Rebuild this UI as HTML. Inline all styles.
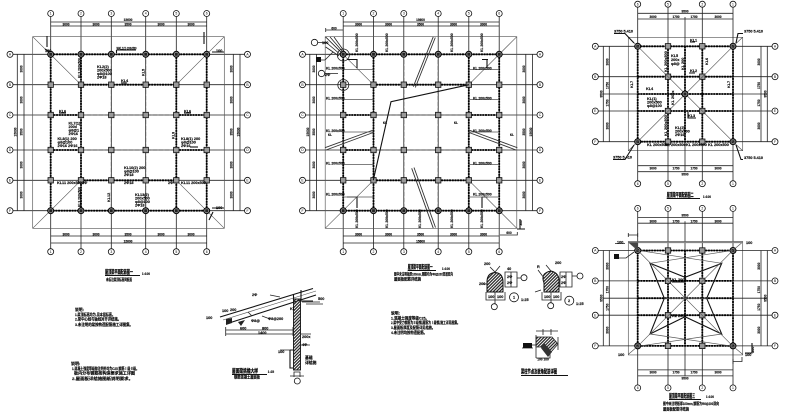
<!DOCTYPE html>
<html lang="zh"><head><meta charset="utf-8"><title>屋顶梁平面配筋图</title>
<style>
html,body{margin:0;padding:0;background:#fff;width:800px;height:412px;overflow:hidden}
svg{display:block}
text{font-family:"Liberation Sans","Noto Sans CJK SC",sans-serif;fill:#000}
.b{fill:#fff;stroke:#111;stroke-width:.8}
.l{fill:none;stroke:#222;stroke-width:.8}
.g{fill:none;stroke:#555;stroke-width:.65}
.d{fill:none;stroke:#444;stroke-width:.8;stroke-dasharray:4 2}
.h{fill:none;stroke:#000;stroke-width:1.8;stroke-dasharray:2 .7}
.k{fill:none;stroke:#111;stroke-width:1.1}
.n{font-size:3.4px;text-anchor:middle}
.t{font-size:3.8px;font-weight:700;stroke:#000;stroke-width:.14}
.t text{stroke:#000;stroke-width:.14}
.m{font-size:3.2px;text-anchor:middle;font-weight:700;stroke:#000;stroke-width:.12}
.T{font-size:5.4px;font-weight:700;stroke:#000;stroke-width:.2}
</style></head><body>
<svg width="800" height="412" viewBox="0 0 800 412" xmlns="http://www.w3.org/2000/svg">
<defs>
<g id="c"><rect x="-2.7" y="-2.7" width="5.4" height="5.4" fill="#999" stroke="#111" stroke-width=".8"/></g>
<g id="o"><circle r="3" fill="#888" stroke="#000" stroke-width="1"/><rect x="-1.4" y="-1.4" width="2.8" height="2.8" fill="#222"/></g>
<g id="P">
<path class="l" d="M50.7 16.5V248.7M81 16.5V248.7M111.3 16.5V248.7M145.7 16.5V248.7M176.3 16.5V248.7M206.7 16.5V248.7M13 54.3H244.5M13 84.7H244.5M13 115H244.5M13 150H244.5M13 180.3H244.5M13 210.7H244.5"/>
<path class="g" d="M32.7 36.7H224.3V228.3H32.7Z"/>
<path class="l" d="M50.7 22H206.7M50.7 26H206.7M50.7 236H206.7M50.7 243H206.7M17.3 54.3V210.7M24 54.3V210.7M233.3 54.3V210.7M240 54.3V210.7"/>
<path class="g" d="M32.7 36.7L81 84.7M224.3 36.7L176.3 84.7M32.7 228.3L81 180.3M224.3 228.3L176.3 180.3"/>
<path class="d" d="M111.3 54V211M145.7 54V211M81 115H176M81 150H176"/>
<path class="h" d="M50.7 54.3H206.7V210.7H50.7ZM81 54.3V210.7M176.3 54.3V210.7M81 84.7H176.3M81 180.3H176.3M50.7 115H81M176.3 115H206.7M50.7 150H81M176.3 150H206.7"/>
<use href="#o" x="50.7" y="54.3"/><use href="#o" x="81" y="54.3"/><use href="#o" x="111.3" y="54.3"/><use href="#o" x="145.7" y="54.3"/><use href="#o" x="176.3" y="54.3"/><use href="#o" x="206.7" y="54.3"/>
<use href="#o" x="50.7" y="210.7"/><use href="#o" x="81" y="210.7"/><use href="#o" x="111.3" y="210.7"/><use href="#o" x="145.7" y="210.7"/><use href="#o" x="176.3" y="210.7"/><use href="#o" x="206.7" y="210.7"/>
<use href="#c" x="50.7" y="84.7"/><use href="#c" x="81" y="84.7"/><use href="#c" x="111.3" y="84.7"/><use href="#c" x="145.7" y="84.7"/><use href="#c" x="176.3" y="84.7"/><use href="#c" x="206.7" y="84.7"/>
<use href="#c" x="50.7" y="115"/><use href="#c" x="81" y="115"/><use href="#c" x="111.3" y="115"/><use href="#c" x="145.7" y="115"/><use href="#c" x="176.3" y="115"/><use href="#c" x="206.7" y="115"/>
<use href="#c" x="50.7" y="150"/><use href="#c" x="81" y="150"/><use href="#c" x="111.3" y="150"/><use href="#c" x="145.7" y="150"/><use href="#c" x="176.3" y="150"/><use href="#c" x="206.7" y="150"/>
<use href="#c" x="50.7" y="180.3"/><use href="#c" x="81" y="180.3"/><use href="#c" x="111.3" y="180.3"/><use href="#c" x="145.7" y="180.3"/><use href="#c" x="176.3" y="180.3"/><use href="#c" x="206.7" y="180.3"/>
<circle class="b" cx="50.7" cy="13.5" r="3"/><circle class="b" cx="81" cy="13.5" r="3"/><circle class="b" cx="111.3" cy="13.5" r="3"/><circle class="b" cx="145.7" cy="13.5" r="3"/><circle class="b" cx="176.3" cy="13.5" r="3"/><circle class="b" cx="206.7" cy="13.5" r="3"/>
<circle class="b" cx="50.7" cy="251.7" r="3"/><circle class="b" cx="81" cy="251.7" r="3"/><circle class="b" cx="111.3" cy="251.7" r="3"/><circle class="b" cx="145.7" cy="251.7" r="3"/><circle class="b" cx="176.3" cy="251.7" r="3"/><circle class="b" cx="206.7" cy="251.7" r="3"/>
<circle class="b" cx="10" cy="54.3" r="3"/><circle class="b" cx="10" cy="84.7" r="3"/><circle class="b" cx="10" cy="115" r="3"/><circle class="b" cx="10" cy="150" r="3"/><circle class="b" cx="10" cy="180.3" r="3"/><circle class="b" cx="10" cy="210.7" r="3"/>
<circle class="b" cx="247.5" cy="54.3" r="3"/><circle class="b" cx="247.5" cy="84.7" r="3"/><circle class="b" cx="247.5" cy="115" r="3"/><circle class="b" cx="247.5" cy="150" r="3"/><circle class="b" cx="247.5" cy="180.3" r="3"/><circle class="b" cx="247.5" cy="210.7" r="3"/>
<text class="n" x="50.7" y="14.7">1</text><text class="n" x="81" y="14.7">2</text><text class="n" x="111.3" y="14.7">3</text><text class="n" x="145.7" y="14.7">4</text><text class="n" x="176.3" y="14.7">5</text><text class="n" x="206.7" y="14.7">6</text>
<text class="n" x="50.7" y="252.9">1</text><text class="n" x="81" y="252.9">2</text><text class="n" x="111.3" y="252.9">3</text><text class="n" x="145.7" y="252.9">4</text><text class="n" x="176.3" y="252.9">5</text><text class="n" x="206.7" y="252.9">6</text>
<text class="n" x="10" y="55.5">A</text><text class="n" x="10" y="85.9">B</text><text class="n" x="10" y="116.2">C</text><text class="n" x="10" y="151.2">D</text><text class="n" x="10" y="181.5">E</text><text class="n" x="10" y="211.9">F</text>
<text class="n" x="247.5" y="55.5">A</text><text class="n" x="247.5" y="85.9">B</text><text class="n" x="247.5" y="116.2">C</text><text class="n" x="247.5" y="151.2">D</text><text class="n" x="247.5" y="181.5">E</text><text class="n" x="247.5" y="211.9">F</text>
<text class="m" x="128" y="21">15600</text><text class="m" x="66" y="25.5">3000</text><text class="m" x="96" y="25.5">3000</text><text class="m" x="128" y="25.5">3500</text><text class="m" x="161" y="25.5">3000</text><text class="m" x="191" y="25.5">3000</text>
<text class="m" x="66" y="235.5">3000</text><text class="m" x="96" y="235.5">3000</text><text class="m" x="128" y="235.5">3500</text><text class="m" x="161" y="235.5">3000</text><text class="m" x="191" y="235.5">3000</text><text class="m" x="128" y="242.5">15600</text>
<text class="m" transform="translate(22.7 69) rotate(-90)">3000</text><text class="m" transform="translate(22.7 100) rotate(-90)">3000</text><text class="m" transform="translate(22.7 132) rotate(-90)">3500</text><text class="m" transform="translate(22.7 165) rotate(-90)">3000</text><text class="m" transform="translate(22.7 195) rotate(-90)">3000</text><text class="m" transform="translate(16.7 132) rotate(-90)">15600</text>
<text class="m" transform="translate(232.7 69) rotate(-90)">3000</text><text class="m" transform="translate(232.7 100) rotate(-90)">3000</text><text class="m" transform="translate(232.7 132) rotate(-90)">3500</text><text class="m" transform="translate(232.7 165) rotate(-90)">3000</text><text class="m" transform="translate(232.7 195) rotate(-90)">3000</text><text class="m" transform="translate(239.5 132) rotate(-90)">15600</text>
</g>
<g id="Q">
<path class="g" d="M628.3 37.3H742.7V150.7H628.3Z"/>
<path class="l" d="M637.7 7V181M668 7V181M702.3 7V181M733 7V181M598.5 46.3H772M598.5 76.7H772M598.5 111H772M598.5 141.7H772M685 17V172M603 94H767"/>
<path class="l" d="M637.7 13.3H733M637.7 19H733M637.7 165.7H733M637.7 171.7H733M603.3 46.3V141.7M609.3 46.3V141.7M761 46.3V141.7M767.3 46.3V141.7"/>
<path class="h" d="M637.7 46.3H733V141.7H637.7ZM668 46.3V141.7M702.3 46.3V141.7M685 46.3V141.7M637.7 76.7H733M637.7 94H733M637.7 111H733"/>
<use href="#o" x="637.7" y="46.3"/><use href="#c" x="668" y="46.3"/><use href="#c" x="702.3" y="46.3"/><use href="#o" x="733" y="46.3"/>
<use href="#o" x="637.7" y="141.7"/><use href="#c" x="668" y="141.7"/><use href="#c" x="702.3" y="141.7"/><use href="#o" x="733" y="141.7"/>
<use href="#c" x="668" y="76.7"/><use href="#c" x="702.3" y="76.7"/><use href="#c" x="668" y="111"/><use href="#c" x="702.3" y="111"/>
<circle class="b" cx="637.7" cy="4.2" r="3"/><circle class="b" cx="668" cy="4.2" r="3"/><circle class="b" cx="702.3" cy="4.2" r="3"/><circle class="b" cx="733" cy="4.2" r="3"/>
<circle class="b" cx="637.7" cy="183.7" r="3"/><circle class="b" cx="668" cy="183.7" r="3"/><circle class="b" cx="702.3" cy="183.7" r="3"/><circle class="b" cx="733" cy="183.7" r="3"/>
<circle class="b" cx="595.3" cy="46.3" r="3"/><circle class="b" cx="595.3" cy="76.7" r="3"/><circle class="b" cx="595.3" cy="111" r="3"/><circle class="b" cx="595.3" cy="141.7" r="3"/>
<circle class="b" cx="775" cy="46.3" r="3"/><circle class="b" cx="775" cy="76.7" r="3"/><circle class="b" cx="775" cy="111" r="3"/><circle class="b" cx="775" cy="141.7" r="3"/>
<text class="n" x="637.7" y="5.4">6</text><text class="n" x="668" y="5.4">5</text><text class="n" x="702.3" y="5.4">2</text><text class="n" x="733" y="5.4">1</text>
<text class="n" x="637.7" y="184.9">6</text><text class="n" x="668" y="184.9">5</text><text class="n" x="702.3" y="184.9">2</text><text class="n" x="733" y="184.9">1</text>
<text class="n" x="595.3" y="47.5">A</text><text class="n" x="595.3" y="77.9">B</text><text class="n" x="595.3" y="112.2">E</text><text class="n" x="595.3" y="142.9">F</text>
<text class="n" x="775" y="47.5">A</text><text class="n" x="775" y="77.9">B</text><text class="n" x="775" y="112.2">E</text><text class="n" x="775" y="142.9">F</text>
<text class="m" x="685" y="12.5">9500</text><text class="m" x="653" y="18.2">3000</text><text class="m" x="676" y="18.2">1750</text><text class="m" x="694" y="18.2">1750</text><text class="m" x="718" y="18.2">3000</text>
<text class="m" x="653" y="169.5">3000</text><text class="m" x="676" y="169.5">1750</text><text class="m" x="694" y="169.5">1750</text><text class="m" x="718" y="169.5">3000</text><text class="m" x="685" y="175.5">9500</text>
<text class="m" transform="translate(608.5 62) rotate(-90)">3000</text><text class="m" transform="translate(608.5 85.5) rotate(-90)">1750</text><text class="m" transform="translate(608.5 103) rotate(-90)">1750</text><text class="m" transform="translate(608.5 126) rotate(-90)">3000</text><text class="m" transform="translate(602.5 94) rotate(-90)">9500</text>
<text class="m" transform="translate(760.2 62) rotate(-90)">3000</text><text class="m" transform="translate(760.2 85.5) rotate(-90)">1750</text><text class="m" transform="translate(760.2 103) rotate(-90)">1750</text><text class="m" transform="translate(760.2 126) rotate(-90)">3000</text><text class="m" transform="translate(766.5 94) rotate(-90)">9500</text>
</g>
<pattern id="ht" width="2.2" height="2.2" patternUnits="userSpaceOnUse" patternTransform="rotate(45)"><rect width="1.2" height="2.2" fill="#222"/></pattern>
</defs>

<!-- plan 1 -->
<use href="#P"/>
<text class="t" x="116.5" y="49.5" textLength="20" lengthAdjust="spacingAndGlyphs">WKL1(1) 200x500</text><path class="k" d="M116.5 50H136M116.5 50V53"/>
<g class="t"><text x="97" y="68">KL2(2)</text><text x="97" y="71.5">200x500</text><text x="97" y="75">φ8@100</text><text x="97" y="78.5">2Φ18</text></g>
<text class="t" transform="translate(80.5 78) rotate(-90)" textLength="20" lengthAdjust="spacingAndGlyphs">KL3 200x500</text>
<text class="t" transform="translate(80.5 207) rotate(-90)" textLength="20" lengthAdjust="spacingAndGlyphs">KL3 200x500</text>
<text class="t" x="121" y="82">KL4</text><path class="k" d="M121 83H127"/>
<text class="t" transform="translate(144.5 76) rotate(-90)">KL5</text>
<text class="t" x="59" y="112.5">KL6</text><path class="k" d="M59 113H66"/><text class="t" x="184" y="112.5">KL6</text><path class="k" d="M184 113H191"/>
<g class="t"><text x="68.5" y="124.5">KL7(1)</text><text x="68.5" y="128">200x</text><text x="68.5" y="131.5">φ8@1</text><text x="68.5" y="135">2Φ16</text></g>
<g class="t"><text x="57.5" y="140">KL8(1) 200</text><text x="57.5" y="143.5">φ8@100</text><text x="57.5" y="147">2Φ16 2Φ16</text></g>
<g class="t"><text x="181" y="140">KL8(1) 200</text><text x="181" y="143.5">φ8@100</text><text x="181" y="147">2Φ16</text></g><path class="k" d="M190 147H198"/>
<text class="t" transform="translate(174.5 139) rotate(-90)">KL9</text>
<g class="t"><text x="124" y="169">KL10(2) 200</text><text x="124" y="172.5">φ8@100</text><text x="124" y="176">2Φ18</text></g>
<text class="t" x="124" y="184">2Φ18</text>
<text class="t" x="57" y="184">KL11 200x500</text><text class="t" x="181" y="184">KL11 200x500</text>
<text class="t" x="82" y="184">2Φ</text><text class="t" x="168" y="184">2Φ</text>
<text class="t" transform="translate(110 202) rotate(-90)">KL12</text>
<g class="t"><text x="135" y="196">KL13(2)</text><text x="135" y="199.5">200x500</text><text x="135" y="203">φ8@100</text><text x="135" y="206.5">2Φ18</text></g>
<text class="t" x="45" y="52">100</text><text class="t" x="216" y="52">100</text><text class="t" x="216" y="209">100</text>
<path class="k" d="M47 47V36M204 32V44M212 52H224M212 208H224M213 212L209 220M50 52L45 49"/>
<text class="T" x="105" y="274" textLength="28" lengthAdjust="spacingAndGlyphs">屋顶梁平面配筋图一</text><path class="k" d="M105 275.5H140"/><text class="m" x="146" y="275">1:100</text>
<text class="t" x="106" y="281" textLength="26" lengthAdjust="spacingAndGlyphs">未标注梁顶标高同板面</text>

<!-- plan 2 -->
<g transform="translate(292.5 0)"><use href="#P"/></g>
<g stroke="#333" stroke-width=".9" fill="none">
<path d="M433.3 36.7L413.3 86.7M435.3 37.5L415.3 87.5M325 147.7L373.3 130M326 150L373.3 132.5M517.3 147.7L469 130M516 150L469 132.5M411.7 168.3L433.3 228.3M414 167.5L435.5 227.5"/>
</g>
<g class="k">
<path d="M373.3 180.3L391 101.7L469 84.7"/>
<path d="M347 59.5H357V68M482 59.5H488M487 59.5V68M347 197H357V208M482 197H488M482 197V208"/>
</g>
<path class="g" d="M343.3 69.5H373.3M343.3 99.5H373.3M343.3 132H373.3M343.3 164.5H373.3M343.3 197H373.3M469 69.5H499M469 99.5H499M469 132H499M469 164.5H499M469 197H499"/>
<g class="t" style="font-size:3.4px">
<text x="326" y="69.5">KL 200x500</text><text x="326" y="99.5">KL 200x500</text><text x="326" y="132">KL 200x500</text><text x="326" y="164.5">KL 200x500</text><text x="326" y="195.5">KL 200x500</text>
<text x="473" y="69.5">KL 200x500</text><text x="473" y="99.5">KL 200x500</text><text x="473" y="132">KL 200x500</text><text x="473" y="164.5">KL 200x500</text><text x="473" y="195.5">KL 200x500</text>
<text transform="translate(358 52) rotate(-90)">KL 200x500</text><text transform="translate(388 52) rotate(-90)">KL 200x500</text><text transform="translate(453 52) rotate(-90)">KL 200x500</text><text transform="translate(483 52) rotate(-90)">KL 200x500</text>
<text transform="translate(358 228) rotate(-90)">KL 200x500</text><text transform="translate(388 228) rotate(-90)">KL 200x500</text><text transform="translate(421 228) rotate(-90)">KL 200x500</text><text transform="translate(453 228) rotate(-90)">KL 200x500</text><text transform="translate(483 228) rotate(-90)">KL 200x500</text>
</g>
<path fill="none" stroke="#222" stroke-width=".8" d="M325.7 37L343 54M330 37L343 52M334 37L344 51M325.7 42L341 55M325.7 47L339 56"/>
<circle class="l" cx="343.3" cy="55" r="6"/><circle class="l" cx="343.3" cy="85" r="5.5"/>
<circle class="b" cx="314.5" cy="42.5" r="3.2"/><circle class="b" cx="321.5" cy="73.5" r="3.2"/>
<path class="l" d="M318 42.5H325M325 73.5H338M325 60L333 52M325 60H317"/>
<rect x="316" y="57" width="5" height="5" fill="#111"/>
<path class="l" d="M325.7 30H343.3M325.7 28V32"/><text class="m" x="334" y="29.5">600</text><path class="l" d="M514 235H517.3V232M500 235H517"/><text class="m" x="509" y="234">600</text>
<text class="t" x="322" y="44">100</text><text class="t" x="325" y="76">2Φ</text>
<text class="m" x="385" y="124">KL</text><text class="m" x="456" y="124">KL</text><text class="m" x="330" y="136">KL</text><text class="m" x="512" y="136">KL</text>
<path class="k" d="M520 219V228.5M517 229H525"/><text class="m" transform="translate(522 223) rotate(-90)">300</text>
<text class="T" x="407.7" y="269" textLength="25" lengthAdjust="spacingAndGlyphs">屋顶梁平面配筋图一</text><path class="k" d="M407.7 270.5H436"/><text class="m" x="446" y="270">1:100</text>
<text class="t" x="394" y="275.5" textLength="59" lengthAdjust="spacingAndGlyphs">图中未注明板厚100mm,钢筋均为Φ8@200双层双向</text>
<text class="t" x="394" y="280.5" textLength="27" lengthAdjust="spacingAndGlyphs">屋面板配筋详结施</text>
<text class="t" x="391" y="314.5">说明:</text>
<text class="t" x="391" y="319.5" textLength="38" lengthAdjust="spacingAndGlyphs">1.混凝土强度等级C25。</text>
<text class="t" x="391" y="324" textLength="69" lengthAdjust="spacingAndGlyphs">2.梁中受力钢筋为Ⅱ级钢,箍筋为Ⅰ级钢,施工详见图集。</text>
<text class="t" x="391" y="329" textLength="44" lengthAdjust="spacingAndGlyphs">3.屋面板厚度及配筋详见结施。</text>
<text class="t" x="391" y="334" textLength="36" lengthAdjust="spacingAndGlyphs">4.未注明均按构造配筋。</text>

<!-- plan 3 -->
<use href="#Q"/>
<path class="g" d="M637.7 46.3L733 141.7M733 46.3L637.7 141.7M628.3 37.3L637.7 46.3M742.7 37.3L733 46.3M628.3 150.7L637.7 141.7M742.7 150.7L733 141.7"/>
<use href="#o" x="685" y="94"/>
<g class="t"><text x="614" y="32.5">3750 5.410</text><text x="744" y="32.5">3750 5.410</text><text x="613" y="158.5">3750 5.410</text><text x="744" y="159">3750 5.410</text>
<text x="647" y="146">KL 200x500</text><text x="665" y="146">KL 200x500</text><text x="686" y="146">KL 200x500</text><text x="708" y="146">KL 200x500</text>
<text x="690" y="41.5">KL1</text><text x="690" y="72">KL2</text><text x="688" y="117">KL3</text>
<text x="646" y="90">KL4</text>
<text x="647" y="100">KL(1)</text><text x="647" y="103.5">200x500</text><text x="647" y="107">φ8@100</text>
<text x="675" y="129">KL(2)</text><text x="675" y="132.5">200x500</text><text x="675" y="136">2Φ16</text>
<text x="671" y="57">KL5</text><text x="671" y="61">200x</text><text x="671" y="65">φ8@</text>
<text transform="translate(667 72) rotate(-90)">KL 200x500</text><text transform="translate(667 136) rotate(-90)">KL 200x500</text><text transform="translate(684 70) rotate(-90)">KL 200</text><text transform="translate(708 65) rotate(-90)">KL6</text><text transform="translate(633 88) rotate(-90)">KL7</text><text transform="translate(730 88) rotate(-90)">KL7</text><text transform="translate(674 105) rotate(-90)">KL 200x</text></g>
<path class="k" d="M614 33.5H625L634 43M743 33.5H738L736 43M613 159.5H625L634 145M743 159.5H741L736 145M690 42H695M689 73H695M688 112V118H696"/>
<text class="T" x="666.7" y="197" textLength="27" lengthAdjust="spacingAndGlyphs">屋顶梁平面配筋图二</text><path class="k" d="M666.7 198.5H700"/><text class="m" x="707" y="198">1:100</text>

<!-- plan 4 -->
<g transform="translate(0 204.2)"><use href="#Q"/></g>
<path class="k" d="M650 263.3L685 277.3L721.7 263.3L706.7 298.3L721.7 334L685 316.7L650 334L664.3 298.3Z"/>
<path class="g" d="M637.7 250.3L733 346.3M733 250.3L637.7 346.3M628.3 242L637.7 250.3M742.7 242L733 250.3M628.3 354.4L637.7 346.3M742.7 354.4L733 346.3M650 263.3L733 250.3M637.7 250.3L721.7 263.3M650 334L733 346.3M637.7 346.3L721.7 334M664.3 298.3H706.7"/>
<path d="M628.3 242.3H742.7" stroke="#888" stroke-width="1.6" fill="none"/>
<path d="M628.5 242.5H638V250Z" fill="#444"/>
<rect x="614" y="254" width="5" height="5" fill="#111"/>
<path class="l" d="M619 258H626L634 252M615 243.5H625M628.3 233V237M637.7 233V237M628.3 235H637.7M733 361.5H742V357M733 359V364"/>
<g class="t"><text x="617" y="243.5">100</text><text x="746" y="244">100</text><text x="618" y="356">100</text><text x="745" y="356">100</text><text x="672" y="281">KL 200x</text><text x="672" y="317">KL 200x</text><text transform="translate(754 353) rotate(-90)">300</text></g>
<path class="k" d="M672 282H685M752 343V353H745"/>
<text class="T" x="669" y="398" textLength="26" lengthAdjust="spacingAndGlyphs">屋顶梁平面配筋图三</text>
<path class="k" d="M669 399.5H701"/><text class="m" x="710" y="398">1:100</text>
<text class="t" x="663" y="405" textLength="56" lengthAdjust="spacingAndGlyphs">图中未注明板厚100mm,钢筋为Φ8@200双向</text>
<text class="t" x="663" y="410.5" textLength="26" lengthAdjust="spacingAndGlyphs">屋面板配筋详结施</text>

<!-- details 1 & 2 -->
<path d="M487 282Q487 273 495 272.5Q503 273 503 282V292H487Z" fill="url(#ht)" stroke="#111" stroke-width="1"/>
<path class="l" d="M505 272H517V287H505V272ZM511 272V287M486 292V300H505V292M495 292V305M490 267L495 272L500 266M483 284H487"/>
<circle class="b" cx="524" cy="277.7" r="3"/><path class="l" d="M517 278H521"/>
<circle class="b" cx="514" cy="297.3" r="4.5"/><circle class="b" cx="494.3" cy="306.7" r="3"/>
<g class="t"><text x="484" y="265">200</text><text x="507" y="270">40</text><text x="507" y="278">2Φ</text><text x="507" y="284">2Φ</text><text x="488" y="298">100</text><text x="497" y="298">100</text><text x="479" y="285">200</text><text x="513" y="298.5">1</text><text x="521" y="301">1:25</text></g>
<path d="M544 283Q540 273 551 271Q560 273 559 283V292H544Z" fill="url(#ht)" stroke="#111" stroke-width="1"/>
<path class="l" d="M560 272H572V287H560V272ZM566 272V287M542 292V300H561V292M551 292V303M546 265L551 271M538 270L544 278M541 290L535 292"/>
<circle class="b" cx="580" cy="276" r="3"/><path class="l" d="M572 276H577"/>
<circle class="b" cx="569.3" cy="300.7" r="4.5"/><circle class="b" cx="550.7" cy="305.7" r="3"/>
<g class="t"><text x="555" y="264">200</text><text x="537" y="268">R</text><text x="561" y="278">2Φ</text><text x="561" y="284">2Φ</text><text x="544" y="298">100</text><text x="553" y="298">100</text><text x="568" y="302">2</text><text x="576" y="305">1:25</text></g>

<!-- detail 3 -->
<path d="M536 337H552L558 344L551 352L546 347H536Z" fill="url(#ht)" stroke="#222" stroke-width=".8"/>
<path class="l" d="M536 335V358M536 358H550V350M536 331H558M543 329V335M551 329V335M558 337V350M527 345H536M522 348H533"/>
<path d="M544 343L552 352L548 357L541 348Z" fill="#333"/>
<rect x="523" y="343" width="9" height="5" fill="#111"/>
<text class="m" x="543" y="360.5">100 100</text>
<text class="T" x="521" y="373.5" textLength="36" lengthAdjust="spacingAndGlyphs">梁柱节点及板角配筋详图</text><path class="k" d="M521 375.5H568"/>

<!-- roof section -->
<path class="k" d="M220 317L313 288.5M226 324L316 295"/>
<path class="g" d="M223 320L316 291"/>
<path d="M226 319L232 318V323L226 325Z" fill="#222"/>
<path d="M238 322L245 320L241 326Z" fill="#222"/>
<rect x="293.5" y="299" width="7" height="71" fill="url(#ht)" stroke="#111" stroke-width=".9"/>
<path class="k" d="M293.5 294V300M301 290V300M301 301H313M293.5 350H290M290 350V368H293"/>
<path class="l" d="M225.7 330H293M225.7 334H293M225.7 327V336M293 327V336M262 316L270 319M248 312L252 316M270 295L280 297M294 377V372H300V377M290 376H304M301 334H311M301 345H310M293 350H280M302 302H320M306 304H323"/>
<circle class="b" cx="297.3" cy="381" r="3"/>
<g class="t"><text x="222" y="312">100</text><text x="230" y="311">200</text><text x="206" y="319">100</text><text x="240" y="329.5">600</text><text x="262" y="329.5">800</text><text x="258" y="334">1400</text><text x="251" y="322">Φ8@</text><text x="268" y="320">Φ8@200</text><text x="252" y="296">2Φ</text><text x="290" y="310">KL</text><text x="302" y="338">200x</text><text x="302" y="346">4Φ</text><text x="278" y="353">100</text><text x="305" y="359">基础</text><text x="305" y="364">详结施</text><text x="318" y="300">500</text></g>
<text class="T" x="232" y="373" textLength="26" lengthAdjust="spacingAndGlyphs">屋面梁挑檐大样</text><path class="k" d="M232 374.5H267"/><text class="m" x="271" y="373">1:25</text>
<text class="t" x="234" y="378.5" textLength="26" lengthAdjust="spacingAndGlyphs">钢筋混凝土屋面板</text>

<!-- notes left -->
<text class="t" x="75" y="311">说明:</text>
<text class="t" x="75" y="316" textLength="40" lengthAdjust="spacingAndGlyphs">1.梁顶标高均为-见本层标高。</text>
<text class="t" x="75" y="320.5" textLength="46" lengthAdjust="spacingAndGlyphs">2.梁中心线与轴线对齐详结施。</text>
<text class="t" x="75" y="326" textLength="58" lengthAdjust="spacingAndGlyphs">3.未注明的梁按构造配筋施工详图集。</text>
<text class="t" x="71" y="365" style="font-size:4px">说明:</text>
<text class="t" x="72" y="370" textLength="67" lengthAdjust="spacingAndGlyphs">1.混凝土强度等级除注明外均为C25,钢筋Ⅰ级Ⅱ级。</text>
<text class="t" x="74" y="374.5" textLength="61" lengthAdjust="spacingAndGlyphs">板内分布钢筋按构造要求施工详图</text>
<text class="t" x="72" y="380" textLength="61" lengthAdjust="spacingAndGlyphs">2.屋面板详结施图纸说明要求。</text>
</svg>
</body></html>
